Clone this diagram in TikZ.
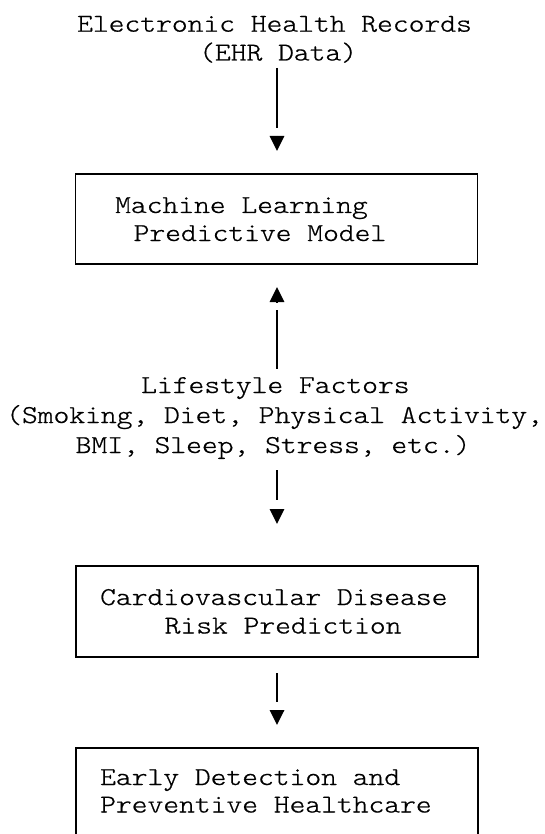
\documentclass[tikz,border=0pt]{standalone}
\usepackage{fontspec}
\usepackage{tikz}
\usetikzlibrary{arrows.meta}
\newfontfamily\courlt{lmmonolt10-regular.otf}[FakeStretch=1.17,FakeBold=0.7]

\begin{document}
\begin{tikzpicture}[x=1pt,y=-1pt,>={Triangle[length=15pt,width=14.5pt]},
  every node/.style={font=\courlt\fontsize{25.7}{29}\selectfont},
  lbl/.style={anchor=base west,inner sep=0pt},
  stagebox/.style={draw,line width=1.6pt,inner sep=0pt,minimum width=402pt},
  stem/.style={line width=1.8pt}]
\useasboundingbox (0,0) rectangle (545,834);
% boxes
\node[stagebox,minimum height=90pt] (mlm) at (276.5,219) {};
\node[stagebox,minimum height=91pt] (cvd) at (277,611.5) {};
\node[stagebox,minimum height=100pt] (edp) at (277,798) {};
% texts
\node[lbl] (ehr1) at (77,31.7) {Electronic Health Records};
\node[lbl] (ehr2) at (199,60.5) {(EHR Data)};
\node[lbl] (mlm1) at (115,213) {Machine Learning};
\node[lbl] (mlm2) at (133.5,241) {Predictive Model};
\node[lbl] (lf1) at (141,393) {Lifestyle Factors};
\node[lbl] (lf2) at (6,423) {(Smoking, Diet, Physical Activity,};
\node[lbl] (lf3) at (75.5,453) {BMI, Sleep, Stress, etc.)};
\node[lbl] (cvd1) at (100,605) {Cardiovascular Disease};
\node[lbl] (cvd2) at (164.5,633.5) {Risk Prediction};
\node[lbl] (edp1) at (100,785) {Early Detection and};
\node[lbl] (edp2) at (100,812.5) {Preventive Healthcare};
% arrow ends
\coordinate (s1a) at (277,68);  \coordinate (s1b) at (277,128);
\coordinate (h1a) at (277,136); \coordinate (h1b) at (277,151);
\coordinate (h2a) at (277,302); \coordinate (h2b) at (277,287);
\coordinate (s2a) at (277,310); \coordinate (s2b) at (277,369);
\coordinate (s3a) at (277,470); \coordinate (s3b) at (277,500);
\coordinate (h3a) at (277,509); \coordinate (h3b) at (277,524);
\coordinate (s4a) at (277,673); \coordinate (s4b) at (277,702);
\coordinate (h4a) at (277,710); \coordinate (h4b) at (277,725);
% connectors
\draw[stem] (s1a) -- (s1b);
\draw[stem,->] (h1a) -- (h1b);
\draw[stem,->] (h2a) -- (h2b);
\draw[stem] (s2a) -- (s2b);
\draw[stem] (s3a) -- (s3b);
\draw[stem,->] (h3a) -- (h3b);
\draw[stem] (s4a) -- (s4b);
\draw[stem,->] (h4a) -- (h4b);
\end{tikzpicture}
\end{document}
